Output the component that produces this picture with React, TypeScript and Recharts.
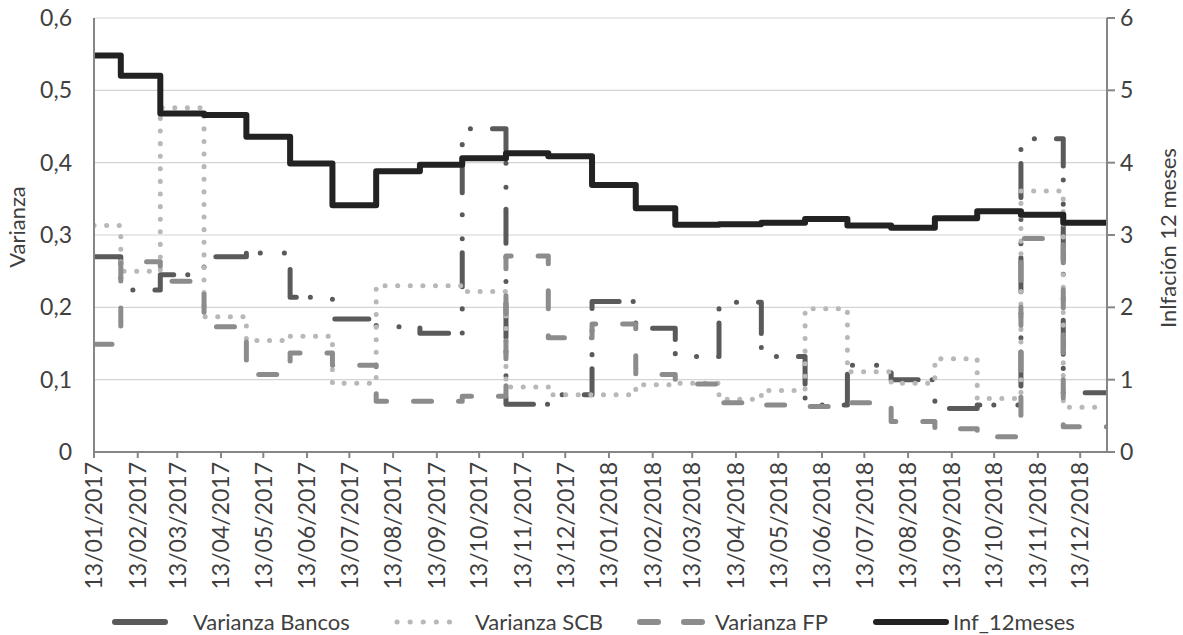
import React from 'react';
import { LineChart, Line, XAxis, YAxis, CartesianGrid, Legend } from 'recharts';

// ---- data ----
const changeDates = [
  '2017-01-13', '2017-02-01', '2017-03-01', '2017-04-01', '2017-05-01', '2017-06-01',
  '2017-07-01', '2017-08-01', '2017-09-01', '2017-10-01', '2017-11-01', '2017-12-01',
  '2018-01-01', '2018-02-01', '2018-03-01', '2018-04-01', '2018-05-01', '2018-06-01',
  '2018-07-01', '2018-08-01', '2018-09-01', '2018-10-01', '2018-11-01', '2018-12-01',
];
const endDate = '2019-01-01';

const tickDates = [
  '2017-01-13', '2017-02-13', '2017-03-13', '2017-04-13', '2017-05-13', '2017-06-13',
  '2017-07-13', '2017-08-13', '2017-09-13', '2017-10-13', '2017-11-13', '2017-12-13',
  '2018-01-13', '2018-02-13', '2018-03-13', '2018-04-13', '2018-05-13', '2018-06-13',
  '2018-07-13', '2018-08-13', '2018-09-13', '2018-10-13', '2018-11-13', '2018-12-13',
];

const varianzaBancos = [0.270, 0.224, 0.245, 0.270, 0.275, 0.214, 0.184, 0.173, 0.164, 0.447, 0.066, 0.079,
  0.208, 0.171, 0.132, 0.207, 0.132, 0.065, 0.120, 0.100, 0.060, 0.065, 0.433, 0.082];
const varianzaSCB = [0.313, 0.250, 0.476, 0.187, 0.154, 0.160, 0.095, 0.230, 0.230, 0.222, 0.090, 0.079,
  0.079, 0.093, 0.095, 0.073, 0.085, 0.198, 0.111, 0.095, 0.129, 0.074, 0.361, 0.062];
const varianzaFP = [0.149, 0.263, 0.236, 0.173, 0.107, 0.137, 0.120, 0.070, 0.070, 0.077, 0.271, 0.158,
  0.177, 0.107, 0.094, 0.068, 0.065, 0.063, 0.068, 0.042, 0.032, 0.021, 0.295, 0.035];
const inf12meses = [5.48, 5.20, 4.68, 4.66, 4.36, 3.99, 3.41, 3.88, 3.97, 4.06, 4.13, 4.09,
  3.69, 3.37, 3.14, 3.15, 3.17, 3.22, 3.13, 3.10, 3.23, 3.33, 3.28, 3.17];

const leftTicks = [0, 0.1, 0.2, 0.3, 0.4, 0.5, 0.6];
const rightTicks = [0, 1, 2, 3, 4, 5, 6];

// ---- helpers ----
const DAY = 86400000;
const toDay = (s: string) => {
  const [y, m, d] = s.split('-').map(Number);
  return Date.UTC(y, m - 1, d) / DAY;
};
const fmtDate = (v: number) => {
  const dt = new Date(Math.round(v) * DAY);
  const dd = String(dt.getUTCDate()).padStart(2, '0');
  const mm = String(dt.getUTCMonth() + 1).padStart(2, '0');
  return `${dd}/${mm}/${dt.getUTCFullYear()}`;
};
const fmtLeft = (v: number) => (v === 0 ? '0' : v.toFixed(1).replace('.', ','));

const data = changeDates.map((d, i) => ({
  t: toDay(d),
  bancos: varianzaBancos[i],
  scb: varianzaSCB[i],
  fp: varianzaFP[i],
  inf: inf12meses[i],
}));
const last = changeDates.length - 1;
data.push({
  t: toDay(endDate),
  bancos: varianzaBancos[last],
  scb: varianzaSCB[last],
  fp: varianzaFP[last],
  inf: inf12meses[last],
});

// ---- style ----
const FONT = 'Lato, "Liberation Sans", sans-serif';
const TXT = '#404040';
const AXIS = '#868686';
const C_BANCOS = '#5a5a5a';
const C_SCB = '#b8b8b8';
const C_FP = '#8c8c8c';
const C_INF = '#222222';
const DASH_BANCOS = '34 14 0.1 24 0.1 22';
const DASH_SCB = '0.1 12.5';
const DASH_FP = '18 27';

const W = 1183;
const H = 635;

const XTick = (props: any) => {
  const { x, y, payload } = props;
  return (
    <g transform={`translate(${x},${y})`}>
      <text transform="rotate(-90)" textAnchor="end" dy="0.36em" fill={TXT} fontSize={23} fontFamily={FONT}>
        {fmtDate(payload.value)}
      </text>
    </g>
  );
};

const LeftLabel = (props: any) => {
  const vb = props.viewBox || { x: 0, y: 0, width: 0, height: 0 };
  const cx = vb.x + 17;
  const cy = vb.y + vb.height / 2 - 8;
  return (
    <text x={cx} y={cy} transform={`rotate(-90 ${cx} ${cy})`} textAnchor="middle" dy="0.36em"
      fill={TXT} fontSize={22} fontFamily={FONT}>Varianza</text>
  );
};

const RightLabel = (props: any) => {
  const vb = props.viewBox || { x: 0, y: 0, width: 0, height: 0 };
  const cx = vb.x + 61;
  const cy = vb.y + vb.height / 2 + 3;
  return (
    <text x={cx} y={cy} transform={`rotate(-90 ${cx} ${cy})`} textAnchor="middle" dy="0.36em"
      fill={TXT} fontSize={22} fontFamily={FONT}>Inlfación 12 meses</text>
  );
};

const LegendContent = () => {
  const ly = 13;
  const items = [
    { x1: 115, x2: 165, tx: 193, label: 'Varianza Bancos', color: C_BANCOS, dash: undefined, w: 6 },
    { x1: 397, x2: 462, tx: 475, label: 'Varianza SCB', color: C_SCB, dash: '0.1 13', w: 5 },
    { x1: 640, x2: 705, tx: 715, label: 'Varianza FP', color: C_FP, dash: '18 26', w: 6 },
    { x1: 876, x2: 946, tx: 953, label: 'Inf_12meses', color: C_INF, dash: undefined, w: 6 },
  ];
  return (
    <div style={{ position: 'relative', width: W, height: 26 }}>
      <svg width={W} height={26} style={{ position: 'absolute', left: 0, top: 0 }}>
        {items.map((it) => (
          <line key={it.label} x1={it.x1} x2={it.x2} y1={ly} y2={ly} stroke={it.color}
            strokeWidth={it.w} strokeLinecap="round" strokeDasharray={it.dash} />
        ))}
      </svg>
      {items.map((it) => (
        <span key={it.label} style={{ position: 'absolute', left: it.tx, top: 0, lineHeight: '26px',
          fontSize: 22, fontFamily: FONT, color: TXT, whiteSpace: 'nowrap' }}>{it.label}</span>
      ))}
    </div>
  );
};

export default function App() {
  return (
    <div style={{ position: 'absolute', left: 0, top: 0, width: W, height: H, background: '#fff', overflow: 'hidden' }}>
      <LineChart width={W} height={H} data={data} margin={{ top: 18, right: 0, bottom: 0, left: 0 }}>
        <CartesianGrid yAxisId="left" vertical={false} stroke="#d4d4d4" strokeWidth={1.2} />
        <XAxis dataKey="t" type="number" domain={[toDay(changeDates[0]), toDay(endDate)]}
          ticks={tickDates.map(toDay)} tick={<XTick />} interval={0} height={157}
          tickSize={6} tickMargin={4} stroke={AXIS} strokeWidth={2} allowDataOverflow />
        <YAxis yAxisId="left" domain={[0, 0.6]} ticks={leftTicks} tickFormatter={fmtLeft} width={94}
          tickLine={false} tickSize={6} tickMargin={16} stroke={AXIS} strokeWidth={2}
          tick={{ fill: TXT, fontSize: 23, fontFamily: FONT }} label={(p: any) => <LeftLabel {...p} />} />
        <YAxis yAxisId="right" orientation="right" domain={[0, 6]} ticks={rightTicks} width={76}
          tickSize={8} tickMargin={5} stroke={AXIS} strokeWidth={2}
          tick={{ fill: TXT, fontSize: 23, fontFamily: FONT }} label={(p: any) => <RightLabel {...p} />} />
        <Line yAxisId="left" type="stepAfter" dataKey="bancos" stroke={C_BANCOS} strokeWidth={5}
          strokeDasharray={DASH_BANCOS} strokeLinecap="round" strokeLinejoin="round" dot={false} isAnimationActive={false} />
        <Line yAxisId="left" type="stepAfter" dataKey="scb" stroke={C_SCB} strokeWidth={5}
          strokeDasharray={DASH_SCB} strokeLinecap="round" strokeLinejoin="round" dot={false} isAnimationActive={false} />
        <Line yAxisId="left" type="stepAfter" dataKey="fp" stroke={C_FP} strokeWidth={5}
          strokeDasharray={DASH_FP} strokeLinecap="round" strokeLinejoin="round" dot={false} isAnimationActive={false} />
        <Line yAxisId="right" type="stepAfter" dataKey="inf" stroke={C_INF} strokeWidth={6}
          strokeLinecap="square" strokeLinejoin="round" dot={false} isAnimationActive={false} />
        <Legend verticalAlign="bottom" content={<LegendContent />}
          wrapperStyle={{ left: 0, bottom: 0, width: W, height: 26 }} />
      </LineChart>
    </div>
  );
}
